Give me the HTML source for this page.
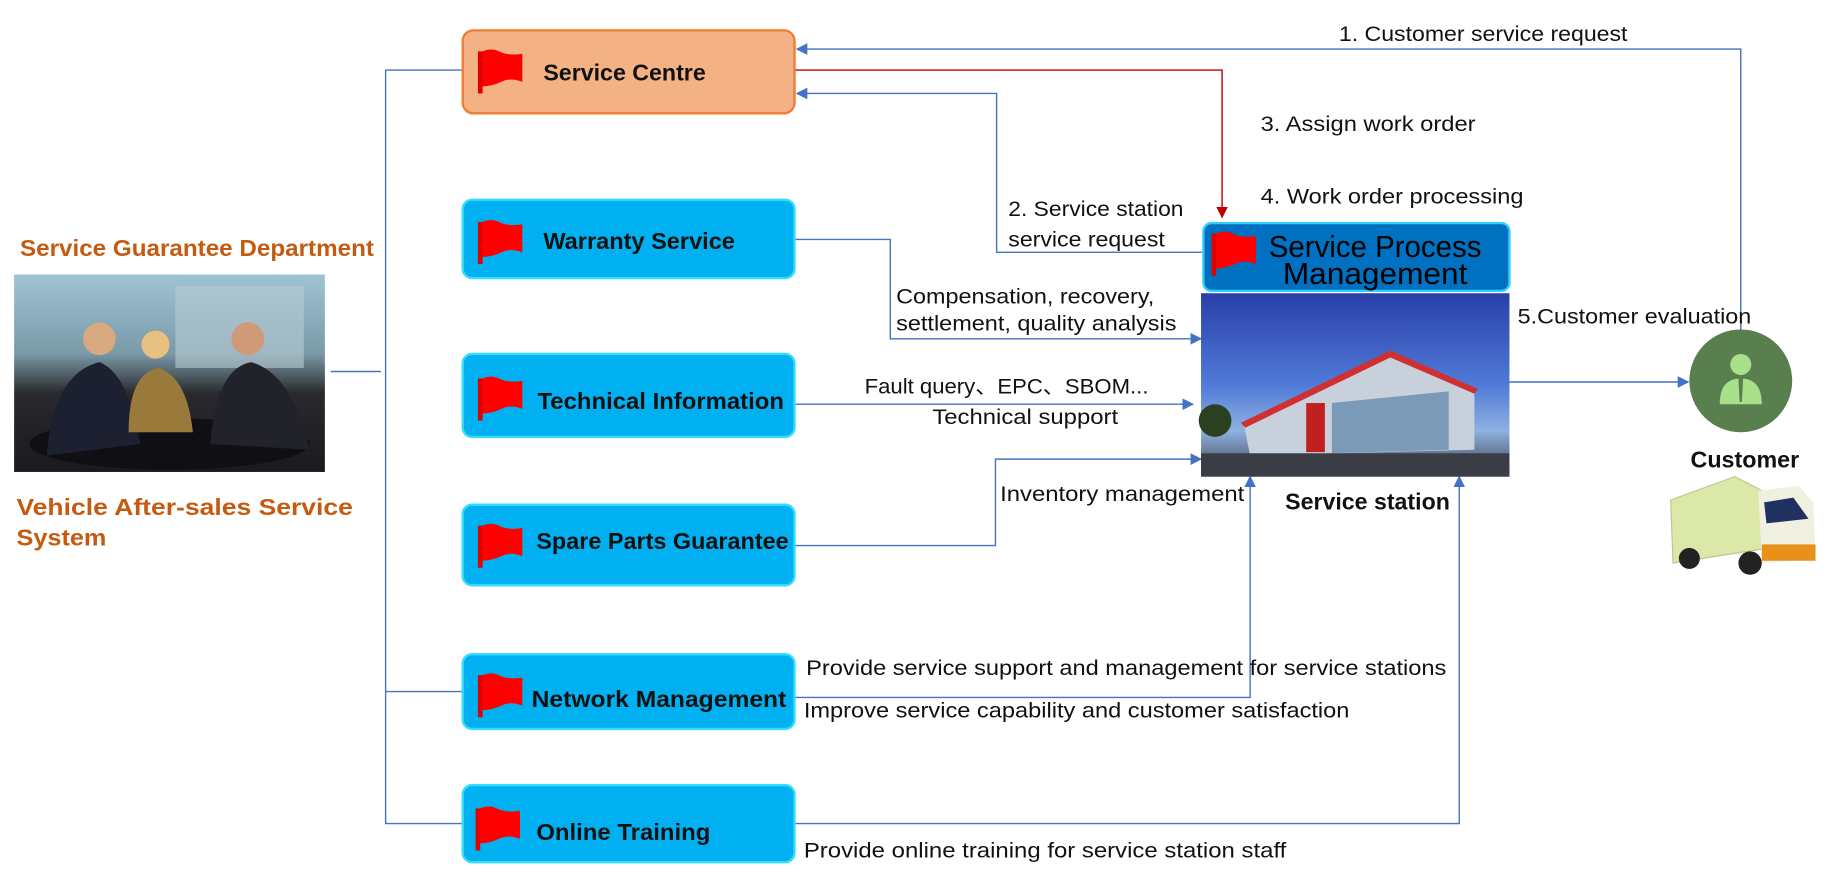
<!DOCTYPE html>
<html><head><meta charset="utf-8"><style>
html,body{margin:0;padding:0;background:#fff;}
svg{display:block;}
text{font-family:"Liberation Sans","Noto Sans CJK SC",sans-serif;}
</style></head><body>
<svg width="1832" height="875" viewBox="0 0 1568 749" xmlns="http://www.w3.org/2000/svg">
<defs>
<marker id="ab" markerWidth="10" markerHeight="10" refX="9" refY="5" orient="auto" markerUnits="userSpaceOnUse"><path d="M0,0 L10,5 L0,10 z" fill="#4472C4"/></marker>
<marker id="ar" markerWidth="10" markerHeight="10" refX="9" refY="5" orient="auto" markerUnits="userSpaceOnUse"><path d="M0,0 L10,5 L0,10 z" fill="#C00000"/></marker>
<linearGradient id="sky" x1="0" y1="0" x2="0" y2="1"><stop offset="0" stop-color="#2a3fa8"/><stop offset="0.5" stop-color="#4f7ad8"/><stop offset="0.75" stop-color="#8fb0e0"/><stop offset="1" stop-color="#3a3f48"/></linearGradient>
<linearGradient id="sky2" x1="0" y1="0" x2="0" y2="1"><stop offset="0" stop-color="#9fc3d6"/><stop offset="0.4" stop-color="#7a9aa8"/><stop offset="0.6" stop-color="#2a2a2e"/><stop offset="1" stop-color="#1a1a1e"/></linearGradient>
<g id="flag"><path d="M0,6 Q10,0 18,4 T38,6 L38,30 Q28,26 20,30 T2,34 Z" fill="#FF0000"/><rect x="0" y="4" width="4" height="36" fill="#E00000"/></g>
</defs>

<g stroke="#4472C4" stroke-width="1.2" fill="none">
<path d="M396,60 H330 V705 H396"/>
<path d="M283,318 H326"/>
<path d="M330,592 H396"/>
</g>

<g stroke="#4472C4" stroke-width="1.2" fill="none">
<path d="M1490,282 V42 H682" marker-end="url(#ab)"/>
<path d="M1029,216 H853 V80 H682" marker-end="url(#ab)"/>
<path d="M680,205 H762 V290 H1028" marker-end="url(#ab)"/>
<path d="M680,346 H1021" marker-end="url(#ab)"/>
<path d="M680,467 H852 V393 H1028" marker-end="url(#ab)"/>
<path d="M680,597 H1070 V408" marker-end="url(#ab)"/>
<path d="M680,705 H1249 V408" marker-end="url(#ab)"/>
<path d="M1292,327 H1445" marker-end="url(#ab)"/>
</g>
<path d="M680,60 H1046 V186" stroke="#C00000" stroke-width="1.2" fill="none" marker-end="url(#ar)"/>

<rect x="396" y="26" width="284" height="71" rx="9" fill="#F4B183" stroke="#ED7D31" stroke-width="2"/>
<use href="#flag" x="409" y="40"/>
<text x="465" y="69" font-size="20" font-weight="bold" fill="#111" textLength="139" lengthAdjust="spacingAndGlyphs">Service Centre</text>

<g fill="#00B0F0" stroke="#33DDFF" stroke-width="2">
<rect x="396" y="171" width="284" height="67" rx="8"/>
<rect x="396" y="303" width="284" height="71" rx="8"/>
<rect x="396" y="432" width="284" height="69" rx="8"/>
<rect x="396" y="560" width="284" height="64" rx="8"/>
<rect x="396" y="672" width="284" height="66" rx="8"/>
</g>
<use href="#flag" x="409" y="186"/>
<use href="#flag" x="409" y="320"/>
<use href="#flag" x="409" y="446"/>
<use href="#flag" x="409" y="574"/>
<use href="#flag" x="407" y="688"/>
<g font-size="20" font-weight="bold" fill="#111">
<text x="465" y="213" textLength="164" lengthAdjust="spacingAndGlyphs">Warranty Service</text>
<text x="460" y="350" textLength="211" lengthAdjust="spacingAndGlyphs">Technical Information</text>
<text x="459" y="470" textLength="216" lengthAdjust="spacingAndGlyphs">Spare Parts Guarantee</text>
<text x="455" y="605" textLength="218" lengthAdjust="spacingAndGlyphs">Network Management</text>
<text x="459" y="719" textLength="149" lengthAdjust="spacingAndGlyphs">Online Training</text>
</g>

<rect x="1030" y="191" width="262" height="58" rx="7" fill="#0070C0" stroke="#33CCFF" stroke-width="2"/>
<use href="#flag" x="1037" y="196"/>
<text x="1086" y="220" font-size="26" fill="#000" textLength="182" lengthAdjust="spacingAndGlyphs">Service Process</text>
<text x="1098" y="243" font-size="26" fill="#000" textLength="158" lengthAdjust="spacingAndGlyphs">Management</text>

<rect x="1028" y="251" width="264" height="157" fill="url(#sky)"/>
<polygon points="1065,365 1190,305 1262,335 1262,385 1070,390" fill="#c8d0dc"/>
<polygon points="1062,362 1190,300 1265,333 1262,337 1190,306 1066,366" fill="#d03030"/>
<rect x="1118" y="345" width="16" height="42" fill="#c02020"/>
<polygon points="1140,345 1240,335 1240,385 1140,388" fill="#7a9ab8"/>
<rect x="1028" y="388" width="264" height="20" fill="#3a3e44"/>
<circle cx="1040" cy="360" r="14" fill="#2a4020"/>

<circle cx="1490" cy="326" r="44" fill="#5A7F4E"/>
<circle cx="1490" cy="312" r="9" fill="#A9E08A"/>
<path d="M1472,346 Q1472,324 1490,324 Q1508,324 1508,346 Z" fill="#A9E08A"/>
<path d="M1488,324 L1492,324 L1491,344 L1489,344 Z" fill="#5A7F4E"/>
<text x="1447" y="400" font-size="20" font-weight="bold" fill="#111" textLength="93" lengthAdjust="spacingAndGlyphs">Customer</text>
<polygon points="1430,428 1485,408 1508,420 1508,470 1432,482" fill="#DCE8A8" stroke="#b8c890"/>
<polygon points="1505,420 1540,416 1552,430 1554,478 1508,482" fill="#f0f0e0"/>
<polygon points="1510,430 1535,426 1548,444 1512,448" fill="#203060"/>
<rect x="1508" y="466" width="46" height="14" fill="#E8901A"/>
<circle cx="1446" cy="478" r="9" fill="#222"/><circle cx="1498" cy="482" r="10" fill="#222"/>

<rect x="12" y="235" width="266" height="169" fill="url(#sky2)"/>
<rect x="150" y="245" width="110" height="70" fill="#b8ccd4" opacity="0.6"/>
<ellipse cx="145" cy="380" rx="120" ry="22" fill="#101014"/>
<path d="M40,390 Q45,320 85,310 Q110,320 120,380 Z" fill="#1c2030"/>
<circle cx="85" cy="290" r="14" fill="#d8a880"/>
<path d="M110,370 Q110,320 135,315 Q160,322 165,370 Z" fill="#9a7a3a"/>
<circle cx="133" cy="295" r="12" fill="#e8c080"/>
<path d="M180,380 Q185,315 215,310 Q250,320 265,385 Z" fill="#22222a"/>
<circle cx="212" cy="290" r="14" fill="#d09a78"/>

<g font-size="20" font-weight="bold" fill="#C55A11">
<text x="17" y="219" textLength="303" lengthAdjust="spacingAndGlyphs">Service Guarantee Department</text>
<text x="14" y="441" textLength="288" lengthAdjust="spacingAndGlyphs">Vehicle  After-sales Service</text>
<text x="14" y="467" textLength="77" lengthAdjust="spacingAndGlyphs">System</text>
</g>

<g font-size="18" fill="#111">
<text x="1146" y="35" textLength="247" lengthAdjust="spacingAndGlyphs">1. Customer service request</text>
<text x="1079" y="112" textLength="184" lengthAdjust="spacingAndGlyphs">3. Assign work order</text>
<text x="1079" y="174" textLength="225" lengthAdjust="spacingAndGlyphs">4. Work order processing</text>
<text x="863" y="185" textLength="150" lengthAdjust="spacingAndGlyphs">2. Service station</text>
<text x="863" y="211" textLength="134" lengthAdjust="spacingAndGlyphs">service request</text>
<text x="767" y="260" textLength="221" lengthAdjust="spacingAndGlyphs">Compensation, recovery,</text>
<text x="767" y="283" textLength="240" lengthAdjust="spacingAndGlyphs">settlement, quality analysis</text>
<text x="740" y="337" textLength="243" lengthAdjust="spacingAndGlyphs">Fault query、EPC、SBOM...</text>
<text x="798" y="363" textLength="159" lengthAdjust="spacingAndGlyphs">Technical support</text>
<text x="856" y="429" textLength="209" lengthAdjust="spacingAndGlyphs">Inventory management</text>
<text x="1299" y="277" textLength="200" lengthAdjust="spacingAndGlyphs">5.Customer evaluation</text>
<text x="690" y="578" textLength="548" lengthAdjust="spacingAndGlyphs">Provide service support and management for service stations</text>
<text x="688" y="614" textLength="467" lengthAdjust="spacingAndGlyphs">Improve service capability and customer satisfaction</text>
<text x="688" y="734" textLength="413" lengthAdjust="spacingAndGlyphs">Provide online training for service station staff</text>
</g>
<text x="1100" y="436" font-size="20" font-weight="bold" fill="#111" textLength="141" lengthAdjust="spacingAndGlyphs">Service station</text>
</svg>
</body></html>
